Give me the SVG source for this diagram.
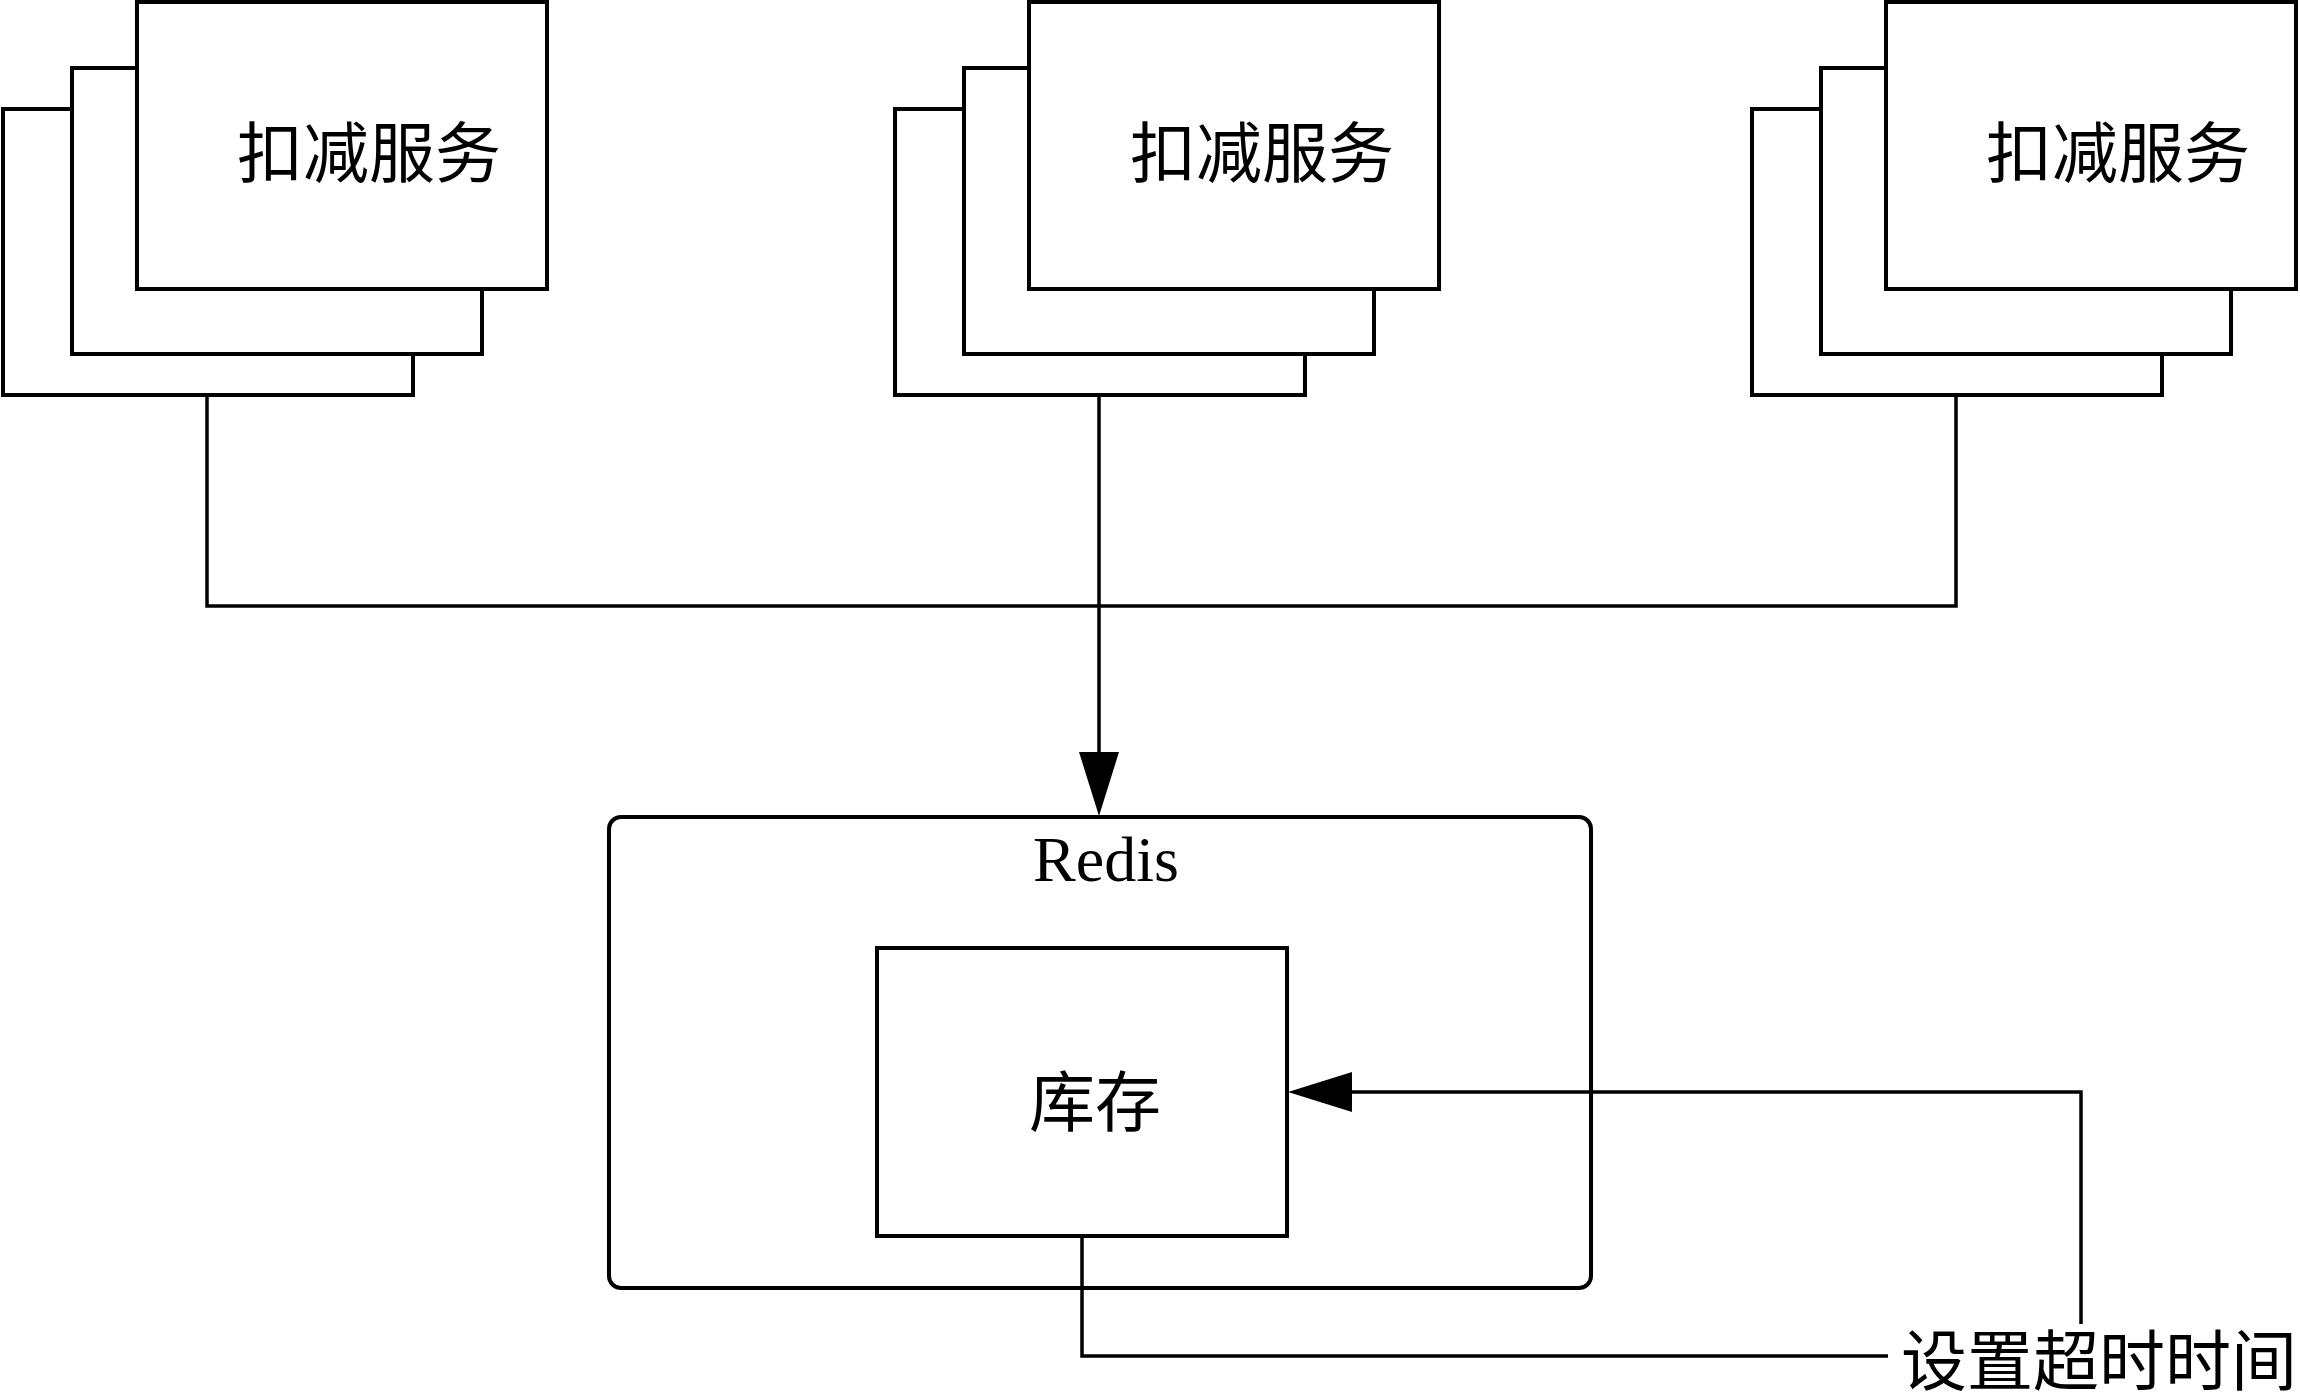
<svg xmlns="http://www.w3.org/2000/svg" width="2300" height="1398" viewBox="0 0 2300 1398">
<style>
.box{fill:#fff;stroke:#000;stroke-width:4}
.wire{fill:none;stroke:#000;stroke-width:3.5}
.cjk{font-family:"Liberation Serif","Noto Sans CJK SC",serif;font-size:66px;fill:#000;text-anchor:middle}
.lat{font-family:"Liberation Serif",serif;font-size:64px;fill:#000;text-anchor:middle}
</style>
<defs>
<marker id="arr" markerUnits="userSpaceOnUse" markerWidth="66" markerHeight="42" refX="0" refY="21" orient="auto" viewBox="0 0 66 42">
<path d="M0,1 L64,21 L0,41 z" fill="#000"/>
</marker>
</defs>
<rect width="2300" height="1398" fill="#fff"/>
<g id="svc1">
<rect class="box" x="3" y="109" width="410" height="286"/>
<rect class="box" x="72" y="68" width="410" height="286"/>
<rect class="box" x="137" y="2" width="410" height="287"/>
<text class="cjk" x="369" y="177">扣减服务</text>
</g>
<g id="svc2">
<rect class="box" x="895" y="109" width="410" height="286"/>
<rect class="box" x="964" y="68" width="410" height="286"/>
<rect class="box" x="1029" y="2" width="410" height="287"/>
<text class="cjk" x="1262" y="177">扣减服务</text>
</g>
<g id="svc3">
<rect class="box" x="1752" y="109" width="410" height="286"/>
<rect class="box" x="1821" y="68" width="410" height="286"/>
<rect class="box" x="1886" y="2" width="410" height="287"/>
<text class="cjk" x="2118" y="177">扣减服务</text>
</g>
<g id="redis">
<rect class="box" x="609" y="817" width="982" height="471" rx="12" ry="12"/>
<text class="lat" x="1106" y="881">Redis</text>
</g>
<g id="stock">
<rect class="box" x="877" y="948" width="410" height="288"/>
<text class="cjk" x="1095" y="1126">库存</text>
</g>
<g id="label">
<text class="cjk" x="2099" y="1385">设置超时时间</text>
</g>
<g id="connectors">
<path class="wire" d="M207,397 V606 H1956 V397"/>
<path class="wire" d="M1099,397 V752" marker-end="url(#arr)"/>
<path class="wire" d="M1082,1238 V1356 H1888"/>
<path class="wire" d="M2081,1324 V1092 H1352" marker-end="url(#arr)"/>
</g>
</svg>
